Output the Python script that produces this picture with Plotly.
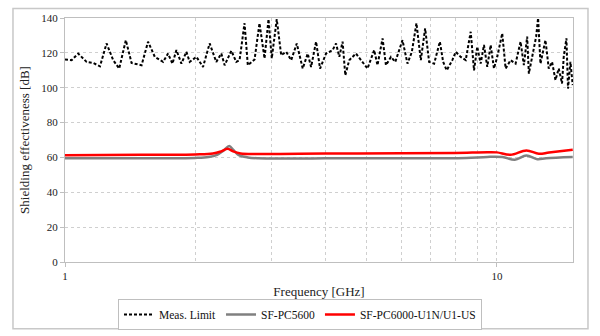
import math
import plotly.graph_objects as go

# ---- data ----
freq_meas = [1.0, 1.036, 1.073, 1.122, 1.162, 1.205, 1.248, 1.293, 1.335, 1.383, 1.426, 1.504, 1.557,
             1.614, 1.687, 1.732, 1.773, 1.811, 1.860, 1.910, 1.944, 2.015, 2.087, 2.162, 2.240, 2.301,
             2.342, 2.427, 2.492, 2.536, 2.604, 2.650, 2.747, 2.820, 2.897, 2.959, 3.011, 3.092, 3.166,
             3.252, 3.339, 3.440, 3.551, 3.647, 3.713, 3.813, 3.895, 4.021, 4.165, 4.241, 4.316, 4.392,
             4.456, 4.550, 4.716, 4.843, 5.016, 5.198, 5.290, 5.435, 5.534, 5.683, 5.815, 5.939, 6.044,
             6.207, 6.354, 6.511, 6.665, 6.820, 6.966, 7.154, 7.377, 7.507, 7.652, 7.884, 8.028, 8.244,
             8.466, 8.694, 8.851, 9.004, 9.169, 9.332, 9.497, 9.671, 9.842, 10.016, 10.286, 10.473,
             10.755, 11.045, 11.342, 11.544, 11.749, 11.855, 12.174, 12.324, 12.452, 12.612, 12.951,
             13.181, 13.414, 13.660, 13.902, 14.148, 14.276, 14.483, 14.607, 14.795, 14.977]
meas_limit = [116.2, 115.8, 119.6, 114.8, 114.2, 112.3, 125.4, 115.8, 111.0, 127.3, 114.2, 112.9, 126.4,
              117.7, 114.8, 119.6, 113.8, 121.6, 113.8, 120.6, 114.8, 117.7, 111.9, 125.4, 114.8, 119.6,
              112.9, 121.2, 114.8, 115.8, 137.0, 112.9, 116.2, 137.0, 116.8, 139.3, 116.8, 139.3, 118.7,
              120.6, 115.8, 125.4, 111.0, 119.6, 111.9, 126.4, 111.0, 119.6, 121.6, 125.4, 117.7, 126.4,
              107.1, 115.8, 119.6, 115.8, 111.0, 121.6, 112.9, 128.3, 112.9, 117.7, 114.8, 121.6, 127.3,
              113.8, 120.6, 137.0, 115.8, 134.1, 114.8, 113.8, 126.4, 114.8, 110.0, 115.8, 120.6, 117.7,
              115.8, 132.1, 110.0, 123.5, 113.8, 124.5, 111.9, 124.5, 111.0, 117.7, 131.2, 111.0,
              115.8, 113.8, 126.4, 112.9, 129.3, 108.1, 123.5, 129.3, 139.9, 113.8, 127.3,
              111.0, 114.8, 104.4, 111.0, 102.4, 117.7, 128.3, 99.5, 114.8, 101.5]

freq_pc5600 = [1.0, 1.5, 2.0, 2.15, 2.25, 2.33, 2.40, 2.45, 2.52, 2.65, 2.8, 3.5, 4.0, 5.0, 7.0, 8.5,
               9.5, 10.3, 11.0, 11.7, 12.4, 13.0, 14.98]
se_pc5600 = [59.6, 59.6, 59.7, 60.2, 61.5, 64.0, 66.5, 64.5, 61.5, 60.0, 59.5, 59.4, 59.5, 59.6, 59.6,
             59.7, 60.3, 60.2, 58.7, 61.1, 59.0, 59.5, 60.2]

freq_pc6000 = [1.0, 1.5, 2.0, 2.2, 2.3, 2.38, 2.45, 2.55, 2.8, 4.0, 6.0, 8.0, 9.5, 10.0, 10.75, 11.7,
               12.5, 13.2, 14.98]
se_pc6000 = [61.3, 61.5, 61.7, 62.2, 63.5, 65.0, 63.5, 62.3, 62.0, 62.2, 62.4, 62.6, 63.0, 62.9, 61.5,
             64.0, 62.1, 62.8, 64.4]

names = ["Meas. Limit", "SF-PC5600", "SF-PC6000-U1N/U1-US"]
x_title = "Frequency [GHz]"
y_title = "Shielding effectiveness [dB]"

FONT = "Liberation Serif, Times New Roman, serif"

fig = go.Figure()
fig.add_trace(go.Scatter(x=freq_meas, y=meas_limit, mode="lines", name=names[0],
                         line=dict(color="black", width=2, dash="3px,2px")))
fig.add_trace(go.Scatter(x=freq_pc5600, y=se_pc5600, mode="lines", name=names[1], line_shape="spline",
                         line=dict(color="#808080", width=2.5)))
fig.add_trace(go.Scatter(x=freq_pc6000, y=se_pc6000, mode="lines", name=names[2], line_shape="spline",
                         line=dict(color="#ff0000", width=2.5)))

grid = "#cfcfcf"
fig.update_layout(
    width=600, height=336,
    margin=dict(l=65, r=27, t=18, b=74),
    paper_bgcolor="white", plot_bgcolor="white",
    font=dict(family=FONT, size=11, color="#222222"),
    showlegend=True,
    legend=dict(orientation="h", x=0.5, xanchor="center", xref="container",
                y=1 - 299.0 / 336.0, yanchor="top", yref="container",
                bordercolor="#bfbfbf", borderwidth=1, bgcolor="white",
                font=dict(family=FONT, size=11.5, color="#111111"),
                itemwidth=30, tracegroupgap=0),
    xaxis=dict(type="log", range=[0, math.log10(15)], tickvals=[1, 10], ticktext=["1", "10"],
               ticks="outside", ticklen=4, tickcolor="#bfbfbf",
               showline=True, linecolor="#bfbfbf", mirror=True, linewidth=1,
               showgrid=True, gridcolor=grid, griddash="dot",
               minor=dict(tickvals=[2, 3, 4, 5, 6, 7, 8, 9], showgrid=True, gridcolor=grid,
                          griddash="dot", ticks=""),
               title=dict(text=x_title, standoff=6), zeroline=False, automargin=False),
    yaxis=dict(range=[0, 140], dtick=20, ticks="outside", ticklen=4, tickcolor="#bfbfbf",
               showline=True, linecolor="#bfbfbf", mirror=True, linewidth=1,
               showgrid=True, gridcolor=grid, griddash="dot", zeroline=False, automargin=False,
               title=dict(text=y_title, standoff=8)),
)
fig.add_shape(type="rect", xref="paper", yref="paper", x0=-0.1024, x1=1.0295, y0=-0.274, y1=1.039,
              line=dict(color="#c8c8c8", width=1.5), fillcolor="rgba(0,0,0,0)", layer="above")

fig.write_html("out.html", config={"displayModeBar": False},
               post_script="document.body.style.margin='0';")
